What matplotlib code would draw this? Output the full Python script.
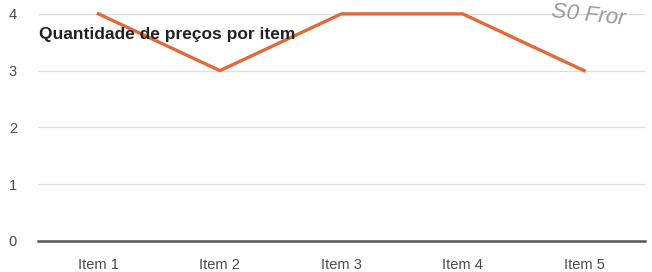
import numpy as np
import matplotlib.pyplot as plt

plt.rcParams['font.family'] = ['Liberation Sans', 'DejaVu Sans']

items = ["Item 1", "Item 2", "Item 3", "Item 4", "Item 5"]
precos = [4, 3, 4, 4, 3]
y_ticks = [0, 1, 2, 3, 4]
title = "Quantidade de preços por item"


def main():
    fig = plt.figure(figsize=(6.52, 2.72), dpi=100)
    ax = fig.add_axes([0.058, 0.114, 0.931, 0.835])

    x = np.arange(len(items))
    ax.plot(x, precos, color="#e3683c", linewidth=2.4, clip_on=False, zorder=3)

    ax.set_xlim(-0.5, len(items) - 0.5)
    ax.set_ylim(0, 4)
    ax.set_yticks(y_ticks)
    ax.set_xticks(x)
    ax.set_xticklabels(items)
    ax.grid(axis="y", color="#dddddd", linewidth=0.9)
    ax.set_axisbelow(True)

    for side in ["top", "right", "left"]:
        ax.spines[side].set_visible(False)
    ax.spines["bottom"].set_color("#555555")
    ax.spines["bottom"].set_linewidth(1.8)
    ax.spines["bottom"].set_zorder(4)

    ax.tick_params(axis="both", length=0, labelsize=10.5, colors="#4a4a4a")
    ax.tick_params(axis="x", pad=12)
    ax.tick_params(axis="y", pad=15)

    fig.text(0.060, 0.872, title, fontsize=12.5, fontweight="bold",
             color="#222222", va="center", ha="left", zorder=5)
    fig.text(0.845, 0.945, "S0 Fror", fontsize=16, color="#9a9a9a",
             va="center", ha="left", rotation=-6, style="italic")

    plt.savefig("out.png", dpi=100)


if __name__ == "__main__":
    main()
